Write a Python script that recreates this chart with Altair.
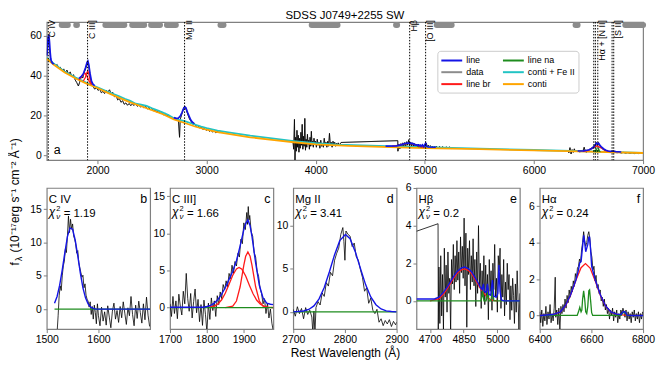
import altair as alt
import pandas as pd

FONT = "Liberation Sans"
TITLE = "SDSS J0749+2255 SW"

SERIES = ["line", "data", "line br", "line na", "conti + Fe II", "conti"]
SERIES_COLORS = ["#1414e6", "#8c8c8c", "#ff1a1a", "#1e8c1e", "#22c4c4", "#ffa500"]

# emission-line markers in the top panel
MARK_WAVES = [1549, 1909, 2798, 4861, 5007, 6548, 6563, 6585, 6716, 6731]
MARK_LABELS = ["C IV", "C III]", "Mg II", "H\u03b2", "[O III]", "H\u03b1 + [N II]", "[S II]"]
MARK_LABEL_WAVES = [1549, 1909, 2798, 4861, 5007, 6585, 6731]

# continuum fitting windows (grey bars)
WIN_START = [1672, 1805, 2072, 2318, 2491, 2636, 3127, 3963, 4736, 5109, 6381, 6837]
WIN_END = [1728, 1812, 2246, 2428, 2573, 2718, 3155, 4200, 4746, 5246, 6400, 7000]

# ---------------- top panel -----------------
TOP_CONTI = [(1535, 48.5), (1600, 45.5), (1700, 41.6), (1800, 38.6), (1900, 36.0), (2000, 33.8),
             (2100, 31.2), (2200, 28.8), (2300, 26.6), (2400, 24.6), (2500, 22.6), (2600, 20.6),
             (2700, 18.0), (2800, 16.2), (2900, 14.3), (3000, 12.8), (3100, 11.6), (3200, 10.7),
             (3400, 9.0), (3600, 7.7), (3800, 6.5), (4000, 5.4), (4300, 4.7), (4600, 4.2),
             (5000, 3.6), (5500, 3.0), (6000, 2.4), (6500, 1.8), (7000, 1.1)]
TOP_FEII = [(1535, 49.0), (1600, 46.0), (1700, 42.0), (1800, 39.0), (1900, 36.4), (2000, 34.2),
            (2100, 31.8), (2200, 29.6), (2250, 28.4), (2300, 27.3), (2350, 25.9), (2400, 25.4),
            (2450, 24.8), (2500, 23.6), (2550, 22.6), (2600, 21.4), (2650, 20.2), (2700, 18.6),
            (2750, 17.7), (2800, 17.1), (2850, 16.2), (2900, 15.3), (2950, 14.4), (3000, 13.6),
            (3100, 12.4), (3200, 11.5), (3400, 9.8), (3600, 8.4), (3800, 7.1), (4000, 6.0),
            (4200, 5.3), (4500, 4.8), (4800, 4.3), (5000, 4.0), (5500, 3.3), (6000, 2.6),
            (6500, 1.9), (7000, 1.15)]
TOP_LINE = [
    [(1536, 50), (1542, 55), (1548, 59), (1554, 60.5), (1560, 57), (1566, 52), (1572, 48.5),
     (1580, 46.8), (1590, 46.2), (1600, 45.8)],
    [(1830, 38.6), (1850, 39.5), (1870, 41.0), (1890, 44.0), (1905, 46.8), (1912, 47.3),
     (1920, 45.5), (1932, 41.0), (1945, 37.2), (1960, 35.6), (1975, 35.0)],
    [(2700, 18.9), (2720, 18.5), (2740, 18.6), (2760, 19.8), (2775, 21.6), (2790, 23.6),
     (2800, 24.4), (2810, 23.9), (2825, 21.6), (2840, 19.6), (2855, 17.7), (2870, 16.6), (2885, 16.0)],
    [(4640, 4.6), (4740, 4.7), (4780, 5.2), (4820, 5.9), (4855, 6.2), (4890, 5.8), (4920, 5.1),
     (4938, 5.2), (4945, 4.7), (4956, 5.1), (4965, 4.5), (4978, 5.2), (4990, 4.3), (5007, 6.0),
     (5015, 4.5), (5030, 4.1), (5100, 4.0)],
    [(6400, 2.1), (6450, 2.2), (6500, 2.6), (6530, 3.3), (6550, 4.3), (6565, 5.5), (6572, 6.1),
     (6582, 5.5), (6592, 6.0), (6605, 4.9), (6620, 4.0), (6640, 3.1), (6660, 2.5), (6680, 2.1),
     (6700, 1.9), (6725, 2.1), (6750, 1.8), (6800, 1.6)],
]
TOP_BR = [
    [(1830, 37.9), (1850, 39.2), (1870, 40.6), (1887, 41.2), (1905, 39.6), (1925, 37.0), (1945, 35.6)],
    [(1870, 37.3), (1890, 39.2), (1900, 41.2), (1911, 42.3), (1922, 40.6), (1935, 37.2), (1950, 35.5)],
    [(4700, 4.6), (4760, 4.9), (4800, 5.6), (4855, 6.1), (4900, 5.6), (4940, 4.7), (4980, 4.1), (5000, 4.05)],
    [(6450, 1.95), (6500, 2.4), (6540, 3.7), (6577, 4.7), (6615, 3.7), (6655, 2.3), (6700, 1.8)],
]
TOP_NA = [
    [(4928, 4.3), (4934, 4.8), (4940, 4.3), (4972, 4.2), (4978, 4.9), (4984, 4.2)],
    [(6545, 1.85), (6555, 2.3), (6563, 1.9), (6570, 3.2), (6578, 1.9), (6586, 2.0), (6593, 3.2),
     (6601, 1.9), (6610, 1.8)],
]
TOP_DATA = [
    [(1536, 50.5), (1542, 54), (1546, 57), (1550, 59.5), (1554, 58), (1558, 56), (1562, 52.5),
     (1566, 50.5), (1570, 47.5), (1576, 46.5), (1582, 47.2), (1590, 45.8), (1600, 46.3),
     (1615, 44.9), (1630, 45.6), (1645, 43.8), (1660, 44.2), (1675, 42.5), (1690, 43.4),
     (1705, 41.6), (1720, 42.8), (1735, 40.6), (1750, 41.9), (1765, 39.4), (1780, 40.5),
     (1795, 37.9), (1810, 36.5), (1825, 34.8), (1835, 36.4), (1845, 38.4), (1855, 39.6),
     (1865, 38.8), (1875, 41.2), (1885, 42.6), (1895, 44.1), (1905, 45.8), (1912, 46.9),
     (1920, 44.8), (1930, 40.6), (1940, 37.2), (1950, 35.1), (1960, 34.4), (1975, 33.2),
     (1990, 34.1), (2005, 32.6), (2020, 33.3), (2035, 31.4), (2050, 32.1), (2065, 31.0),
     (2080, 32.6), (2095, 31.8), (2110, 32.9), (2125, 30.9), (2140, 31.6), (2155, 29.4),
     (2170, 30.0), (2185, 27.8), (2200, 28.6), (2215, 26.6), (2230, 27.4), (2245, 25.6),
     (2260, 26.3), (2275, 25.1), (2290, 26.0), (2305, 24.9), (2320, 25.8), (2335, 25.0),
     (2350, 25.9), (2365, 24.6), (2380, 25.4), (2395, 24.2), (2410, 24.9), (2425, 23.8),
     (2440, 24.6), (2455, 23.2), (2470, 24.0), (2485, 22.9), (2500, 23.6), (2515, 22.3),
     (2530, 22.9), (2545, 21.6), (2560, 22.5), (2575, 21.0), (2590, 21.8), (2605, 20.3),
     (2620, 21.0), (2635, 19.8), (2650, 20.2), (2665, 18.9), (2680, 19.4), (2695, 18.2),
     (2710, 18.9), (2725, 17.8), (2740, 18.6), (2752, 9.0), (2758, 18.0), (2770, 20.1),
     (2785, 22.8), (2795, 24.2), (2805, 24.0), (2815, 22.5), (2830, 20.1), (2845, 18.0),
     (2860, 16.8), (2875, 15.4), (2890, 15.9), (2905, 14.6), (2920, 14.9), (2935, 13.7),
     (2950, 14.2), (2965, 13.0), (2980, 13.4), (2995, 12.5), (3010, 13.1), (3025, 12.0),
     (3040, 12.6), (3055, 11.6), (3070, 12.2), (3085, 11.2), (3100, 11.9), (3115, 11.4),
     (3130, 12.0), (3145, 11.6)],
    [(3790, 7.5), (3798, 3.0), (3805, 18.0), (3810, -2.5), (3816, 9.0), (3822, 2.0), (3828, 12.5),
     (3834, 4.0), (3840, 10.0), (3846, 1.5), (3852, 8.5), (3858, 3.5), (3864, 11.5), (3870, 5.0),
     (3876, 15.5), (3882, 3.0), (3888, 9.5), (3894, 4.5), (3900, 18.5), (3906, 2.5), (3912, 8.0),
     (3918, 4.0), (3924, 10.5), (3930, 5.5), (3936, 7.5), (3942, 3.0), (3948, 9.0), (3954, 4.5),
     (3960, 12.0), (3966, 5.0), (3972, 7.0), (3978, 4.0), (3984, 8.5), (3990, 5.5), (3998, 7.0),
     (4006, 4.0), (4014, 8.0), (4022, 5.0), (4030, 6.5), (4038, 3.5), (4046, 7.5), (4054, 4.5),
     (4062, 6.0), (4070, 4.0), (4078, 8.5), (4086, 5.0), (4094, 6.5), (4102, 4.0), (4110, 7.0),
     (4118, 4.5), (4126, 11.0), (4134, 5.0), (4142, 6.5), (4150, 4.0), (4158, 7.0), (4166, 5.5),
     (4174, 6.5), (4182, 4.5), (4190, 6.0), (4198, 5.0), (4206, 6.2), (4214, 4.8), (4222, 5.6),
     (4232, 6.4), (4752, 7.3), (4753, 2.0), (4762, 5.5), (4771, 3.2), (4780, 5.8), (4789, 3.6),
     (4798, 6.2), (4807, 4.2), (4816, 6.4), (4825, 4.6), (4834, 6.8), (4843, 5.0), (4852, 7.8),
     (4861, 4.8), (4870, 6.6), (4879, 4.6), (4888, 6.2), (4897, 4.4), (4906, 5.8), (4915, 4.0),
     (4924, 5.4), (4933, 3.8), (4942, 5.6), (4951, 4.0), (4960, 5.2), (4969, 3.6), (4978, 5.4),
     (4987, 4.0), (4996, 5.0), (5005, 4.2), (5014, 6.0), (5023, 3.8), (5032, 5.0), (5041, 3.4),
     (5050, 4.8), (5059, 3.6), (5068, 4.6), (5077, 3.2), (5086, 4.4), (5095, 3.4), (5104, 4.6),
     (5120, 3.6), (5135, 4.4), (5150, 3.5), (5165, 4.3), (5180, 3.4), (5195, 4.2), (5210, 3.5),
     (5225, 4.1), (5240, 3.3), (5255, 3.9)],
    [(6310, 2.5), (6320, 1.2), (6330, 3.8), (6340, 0.6), (6350, 2.8), (6360, 1.4), (6370, 3.2),
     (6380, 1.6), (6390, 2.6), (6400, 1.8), (6410, 2.4), (6420, 1.5), (6430, 2.6), (6440, 1.9),
     (6450, 2.3), (6460, 4.0), (6470, 2.0), (6480, 1.4), (6490, 2.6), (6500, 2.3), (6510, 3.0),
     (6520, 3.3), (6530, 3.7), (6540, 4.1), (6550, 4.6), (6560, 5.2), (6570, 6.2), (6580, 5.8),
     (6590, 6.3), (6600, 5.1), (6610, 4.4), (6620, 3.6), (6630, 3.2), (6640, 2.6), (6650, 2.4),
     (6660, 2.0), (6670, 1.6), (6680, 1.8), (6690, 1.5), (6700, 1.7), (6710, 1.4), (6720, 1.8),
     (6730, 1.6), (6740, 1.3), (6750, 1.5), (6760, 1.2), (6780, 1.5), (6800, 1.1), (6820, 1.4),
     (6840, 1.0), (6860, 1.3), (6880, 0.9), (6900, 1.2), (6920, 0.8), (6940, 1.1), (6960, 0.8),
     (6980, 1.0), (7000, 0.9)],
]

# ---------------- zoomed panels -----------------
PANEL_NAMES = ["C IV", "C III]", "Mg II", "H\u03b2", "H\u03b1"]
PANEL_LETTERS = ["b", "c", "d", "e", "f"]
PANEL_CHI2 = ["1.19", "1.66", "3.41", "0.2", "0.24"]
X_DOMAINS = [[1500, 1700], [1700, 1980], [2700, 2900], [4640, 5100], [6400, 6800]]
Y_DOMAINS = [[-3, 18.2], [-2.9, 16.1], [-2, 14.4], [-1.5, 6], [-0.75, 7]]
X_TICKS = [[1500, 1600], [1700, 1800, 1900], [2700, 2800, 2900], [4700, 4850, 5000], [6400, 6600, 6800]]
Y_TICKS = [[0, 5, 10, 15], [0, 5, 10, 15], [0, 5, 10], [0, 2, 4, 6], [0, 2, 4, 6]]

B_DATA = [(1520, -3.5), (1522, -1), (1524, 2), (1526, 3.5), (1528, 2.8), (1530, 5), (1532, 6.5),
          (1534, 7.2), (1536, 9), (1538, 8.5), (1540, 11), (1542, 14), (1544, 11.5), (1546, 13.5),
          (1548, 12), (1550, 12.8), (1552, 11), (1554, 10.5), (1556, 9.8), (1558, 8.4), (1560, 8.8),
          (1562, 7), (1564, 6.2), (1566, 5.5), (1568, 4.8), (1570, 5.1), (1572, 3.2), (1574, 3.8),
          (1576, 2.1), (1578, 1.5), (1580, 1.2), (1582, 0.3), (1584, 1.1), (1586, -0.8), (1588, 0.4),
          (1590, -1.5), (1592, 0.6), (1594, -0.5), (1596, -2.2), (1598, 0.8), (1600, -1), (1603, -2.5),
          (1606, 0.3), (1609, -1.8), (1612, -0.4), (1615, -2.4), (1618, 0.5), (1621, -1.2), (1624, -2.8),
          (1627, -0.3), (1630, 0.9), (1633, -1.5), (1636, -0.2), (1639, -2), (1642, 0.4), (1645, -1.3),
          (1648, 1.1), (1651, -0.6), (1654, -2.3), (1657, 0.2), (1660, -1), (1663, 1.9), (1666, -0.8),
          (1669, -2.5), (1672, 0.6), (1675, -1.4), (1678, 1.2), (1681, -0.5), (1684, -2.1), (1687, 0.8),
          (1690, -1.6), (1693, 1.8), (1696, -0.9), (1699, -2.6)]
B_LINE = [(1515, 0.9), (1520, 1.9), (1525, 3.6), (1530, 5.9), (1535, 8.5), (1540, 10.9), (1545, 12.2),
          (1550, 12.0), (1555, 10.4), (1560, 8.0), (1565, 5.4), (1570, 3.2), (1575, 1.7), (1580, 0.8),
          (1585, 0.3), (1590, 0.1), (1595, 0.0), (1700, 0.0)]
B_NA = [(1515, 0.0), (1700, 0.0)]

C_DATA = [(1700, 0.5), (1704, -1.2), (1708, 1.5), (1712, -0.8), (1716, 0.9), (1720, -1.5), (1724, 1.8),
          (1728, 0.2), (1732, -1), (1736, 2.2), (1740, 0.5), (1744, 4.6), (1748, 1.2), (1752, -0.5),
          (1756, 1.9), (1760, -1.4), (1764, 0.8), (1768, 2.5), (1772, -0.7), (1776, 1.1), (1780, -1.9),
          (1784, 0.4), (1788, -2.4), (1792, 1), (1796, -0.9), (1800, -3.3), (1804, 0.6), (1808, -1.6),
          (1812, 1.3), (1816, -0.4), (1820, 0.9), (1824, -1.2), (1828, 1.6), (1832, 0.4), (1836, 2.1),
          (1840, 1.2), (1844, 3.1), (1848, 2.4), (1852, 3.6), (1856, 2.8), (1860, 4.6), (1864, 3.9),
          (1868, 5.7), (1872, 4.6), (1876, 6.2), (1880, 5.6), (1884, 7.3), (1888, 6.8), (1892, 9.2),
          (1896, 8.6), (1900, 11.4), (1904, 10.5), (1908, 12.8), (1910, 11.2), (1912, 13.6), (1914, 11.8),
          (1916, 12.4), (1920, 10.2), (1924, 9.6), (1928, 7.4), (1932, 6.8), (1936, 4.9), (1940, 4.2),
          (1944, 2.6), (1948, 1.9), (1952, 0.5), (1956, 1.2), (1960, -0.8), (1964, 0.6), (1968, -1.4),
          (1972, -0.2), (1976, -2.1), (1980, -3.2)]
C_LINE = [(1700, 0.05), (1790, 0.05), (1800, 0.15), (1810, 0.3), (1820, 0.6), (1830, 1.1), (1840, 1.8),
          (1850, 2.7), (1860, 3.8), (1870, 4.9), (1880, 6.3), (1890, 8.3), (1900, 10.5), (1905, 11.3),
          (1911, 11.8), (1917, 11.0), (1922, 9.6), (1932, 6.0), (1942, 3.0), (1952, 1.3), (1962, 0.6),
          (1972, 0.45), (1980, 0.4)]
C_BR = [
    [(1800, 0.0), (1820, 0.2), (1830, 0.49), (1840, 1.05), (1850, 1.96), (1860, 3.15), (1870, 4.36),
     (1880, 5.2), (1887, 5.4), (1895, 5.15), (1905, 4.25), (1915, 3.02), (1925, 1.86), (1935, 0.98),
     (1945, 0.45), (1955, 0.18), (1965, 0.06), (1980, 0.01)],
    [(1850, 0.0), (1870, 0.18), (1880, 0.88), (1890, 2.8), (1900, 5.7), (1905, 6.9), (1911, 7.5),
     (1917, 6.9), (1922, 5.7), (1932, 2.8), (1942, 0.88), (1952, 0.18), (1962, 0.02), (1980, 0.0)],
]
C_NA = [(1700, 0.0), (1980, 0.0)]

D_DATA = [(2700, 0.3), (2704, -0.5), (2708, 0.6), (2712, -0.2), (2716, 0.4), (2720, -0.8), (2724, 0.5),
          (2728, -0.3), (2732, 0.2), (2736, -0.6), (2738, -2.5), (2740, 0.1), (2742, -2.5), (2744, 0.5),
          (2748, 1.2), (2752, 0.8), (2756, 2.2), (2760, 1.8), (2764, 3.4), (2768, 3.0), (2772, 4.6),
          (2776, 4.2), (2780, 6.0), (2784, 6.8), (2788, 7.4), (2792, 9.0), (2796, 9.8), (2798, 8.2),
          (2800, 6.0), (2802, 9.4), (2806, 9.0), (2810, 8.8), (2814, 7.6), (2818, 8.0), (2822, 6.4),
          (2826, 6.0), (2830, 4.9), (2834, 4.0), (2838, 2.4), (2842, 2.8), (2846, 1.0), (2850, 1.6),
          (2854, 0.2), (2858, -0.2), (2862, 0.3), (2866, -1.2), (2870, -0.8), (2874, -1.6), (2878, -1.0),
          (2882, -1.4), (2886, -0.9), (2890, -1.7), (2894, -1.1), (2898, -1.5), (2900, -1.2)]
D_LINE = [(2700, 0.0), (2720, 0.1), (2730, 0.28), (2740, 0.7), (2750, 1.51), (2760, 2.84), (2770, 4.66),
          (2780, 6.65), (2790, 8.28), (2801, 9.0), (2810, 8.5), (2820, 7.0), (2830, 5.06), (2840, 3.17),
          (2850, 1.73), (2860, 0.83), (2870, 0.34), (2880, 0.12), (2890, 0.04), (2900, 0.0)]
D_NA = [(2700, 0.0), (2900, 0.0)]

E_DATA = [(4640, 3.7), (4736, 4.1), (4737, -1.5), (4740, 1.8), (4744, -1.2), (4748, 2.4), (4752, -0.8),
          (4756, 1.4), (4760, -1.5), (4764, 2.8), (4768, 0.2), (4772, 1.9), (4776, -0.6), (4780, 2.6),
          (4784, 0.4), (4788, 1.2), (4792, -1.6), (4796, 2.2), (4800, 0.9), (4804, 3.0), (4808, 0.6),
          (4812, 2.4), (4816, 1.0), (4820, 3.2), (4824, 1.1), (4828, 2.6), (4832, 0.4), (4836, 3.4),
          (4840, 1.5), (4844, 2.9), (4848, 1.2), (4852, 4.4), (4856, 0.8), (4860, 3.6), (4864, -1.4),
          (4868, 2.8), (4872, 1.4), (4876, 3.2), (4880, 0.6), (4884, 2.4), (4888, 1.0), (4892, 3.3),
          (4896, 0.8), (4900, 2.2), (4904, -0.3), (4908, 2.6), (4912, 0.4), (4916, 4.0), (4920, 0.7),
          (4924, 2.0), (4928, -0.4), (4932, 1.6), (4936, 0.2), (4940, 2.4), (4944, -0.2), (4948, 1.9),
          (4952, 0.1), (4956, 1.4), (4960, -1.0), (4964, 2.2), (4968, 0.5), (4972, 1.6), (4976, -0.5),
          (4980, 2.0), (4984, 0.6), (4988, 3.0), (4992, 0.2), (4996, 1.2), (5000, -0.6), (5004, 2.4),
          (5008, 1.6), (5012, 2.8), (5016, -0.4), (5020, 1.4), (5024, 0.2), (5028, 2.2), (5032, -0.8),
          (5036, 1.0), (5040, -0.2), (5044, 2.0), (5048, 0.6), (5052, 1.4), (5056, -1.0), (5060, 0.8),
          (5064, -0.5), (5068, 1.2), (5072, 0.3), (5076, -1.2), (5080, 0.9), (5084, -0.6), (5088, 1.6),
          (5092, 0.1), (5096, -1.5), (5100, 0.4)]
E_LINE = [(4640, 0.1), (4720, 0.1), (4740, 0.2), (4760, 0.45), (4780, 0.8), (4800, 1.2), (4820, 1.55),
          (4840, 1.75), (4855, 1.8), (4870, 1.72), (4885, 1.55), (4900, 1.25), (4915, 0.95), (4925, 0.7),
          (4932, 0.6), (4938, 0.9), (4942, 0.5), (4950, 0.45), (4956, 0.9), (4962, 0.35), (4970, 0.3),
          (4978, 1.1), (4984, 0.25), (4995, 0.2), (5002, 0.4), (5007, 1.9), (5012, 0.5), (5018, 0.05),
          (5030, 0.0), (5100, 0.0)]
E_BR = [[(4700, 0.0), (4740, 0.1), (4760, 0.35), (4780, 0.7), (4800, 1.1), (4820, 1.45), (4840, 1.65),
         (4855, 1.7), (4870, 1.62), (4885, 1.45), (4900, 1.15), (4915, 0.85), (4925, 0.65), (4935, 0.48),
         (4945, 0.33), (4955, 0.2), (4965, 0.1), (4980, 0.03), (5000, 0.0)]]
E_NA = [(4640, 0.0), (4928, 0.0), (4934, 0.55), (4940, 0.0), (4950, 0.0), (4956, 0.45), (4962, 0.0),
        (4972, 0.0), (4978, 0.75), (4984, 0.0), (5100, 0.0)]

F_DATA = [(6400, 0.2), (6404, -0.4), (6408, 0.3), (6412, -0.6), (6416, 0.1), (6420, -0.3), (6424, 0.5),
          (6428, -0.5), (6432, 0.2), (6436, -0.2), (6440, 0.6), (6444, -0.4), (6448, 0.1), (6452, -0.3),
          (6456, 0.4), (6460, 2.1), (6462, -0.1), (6466, 0.3), (6470, -0.5), (6474, 0.4), (6478, -0.8),
          (6482, 0.5), (6486, 0.1), (6490, 0.6), (6494, 0.2), (6498, 0.9), (6502, 0.4), (6506, 1.1),
          (6510, 0.7), (6514, 1.4), (6518, 1.0), (6522, 1.6), (6526, 1.3), (6530, 1.9), (6534, 1.6),
          (6538, 2.3), (6542, 2.0), (6546, 2.6), (6550, 2.7), (6554, 3.1), (6558, 2.9), (6562, 3.6),
          (6566, 4.0), (6570, 4.6), (6574, 4.1), (6578, 3.8), (6582, 4.0), (6586, 4.4), (6590, 4.6),
          (6594, 4.2), (6598, 3.5), (6602, 3.2), (6606, 2.5), (6610, 2.7), (6614, 1.9), (6618, 2.2),
          (6622, 1.5), (6626, 1.7), (6630, 1.2), (6634, 1.4), (6638, 0.8), (6642, 1.0), (6646, 0.5),
          (6650, 0.9), (6654, 0.3), (6658, 0.6), (6662, 0.1), (6666, 0.4), (6670, -0.2), (6674, 0.3),
          (6678, 0.0), (6682, 0.4), (6686, -0.3), (6690, 0.2), (6694, -0.1), (6698, 0.3), (6702, -0.4),
          (6706, 0.1), (6710, -0.2), (6714, 0.3), (6718, 0.1), (6722, 0.4), (6726, 0.2), (6730, -0.1),
          (6734, 0.3), (6738, -0.3), (6742, 0.2), (6746, -0.2), (6750, 0.1), (6754, -0.4), (6758, 0.2),
          (6762, -0.1), (6766, 0.3), (6770, -0.3), (6774, 0.1), (6778, -0.2), (6782, 0.2), (6786, -0.4),
          (6790, 0.1), (6794, -0.2), (6798, 0.2)]
F_LINE = [(6400, 0.0), (6450, 0.05), (6480, 0.2), (6500, 0.55), (6520, 1.15), (6540, 1.95), (6550, 2.5),
          (6555, 2.9), (6560, 2.95), (6566, 3.8), (6570, 4.4), (6574, 4.0), (6578, 3.5), (6582, 3.7),
          (6586, 3.9), (6590, 4.3), (6593, 4.3), (6597, 3.6), (6601, 2.7), (6615, 1.95), (6635, 1.12),
          (6655, 0.52), (6675, 0.2), (6700, 0.06), (6715, 0.05), (6720, 0.17), (6726, 0.22), (6732, 0.17),
          (6738, 0.02), (6760, 0.0), (6800, 0.0)]
F_BR = [[(6400, 0.0), (6450, 0.03), (6480, 0.2), (6500, 0.53), (6520, 1.13), (6540, 1.93), (6560, 2.62),
         (6577, 2.85), (6595, 2.6), (6615, 1.89), (6635, 1.1), (6655, 0.51), (6675, 0.19), (6700, 0.04),
         (6750, 0.0), (6800, 0.0)]]
F_NA = [(6400, 0.0), (6545, 0.0), (6550, 0.2), (6555, 0.45), (6560, 0.2), (6563, 0.3), (6566, 0.9),
        (6570, 1.35), (6574, 0.9), (6578, 0.2), (6582, 0.1), (6586, 0.5), (6590, 1.35), (6593, 1.4),
        (6597, 0.8), (6601, 0.15), (6605, 0.0), (6715, 0.0), (6720, 0.12), (6726, 0.2), (6732, 0.12),
        (6738, 0.0), (6800, 0.0)]

PANELS = [
    dict(data=B_DATA, line=B_LINE, br=[], na=B_NA),
    dict(data=C_DATA, line=C_LINE, br=C_BR, na=C_NA),
    dict(data=D_DATA, line=D_LINE, br=[], na=D_NA),
    dict(data=E_DATA, line=E_LINE, br=E_BR, na=E_NA),
    dict(data=F_DATA, line=F_LINE, br=F_BR, na=F_NA),
]

Y_TITLE_MAIN = "(10\u207b\u00b9\u2077erg s\u207b\u00b9 cm\u207b\u00b2 \u00c5\u207b\u00b9)"

# ------------------------------------------------------------------
COLOR_SCALE = alt.Scale(domain=SERIES, range=SERIES_COLORS)
LEGEND = alt.Legend(orient="none", legendX=393, legendY=29, columns=2, title=None,
                    symbolType="M-2,0H2", symbolStrokeWidth=2, symbolSize=110,
                    symbolOffset=5, labelFontSize=9, labelFont=FONT, labelColor="black",
                    fillColor="white", strokeColor="#cccccc", padding=3, cornerRadius=3,
                    columnPadding=8, rowPadding=0, labelOffset=8)


def frame(series, segs):
    rows = []
    for k, seg in enumerate(segs):
        for lam, f in seg:
            rows.append({"lam": lam, "flux": f, "series": series, "seg": f"{series}-{k}"})
    return pd.DataFrame(rows)


def text_layer(txt, x, y, size, align="left", baseline="alphabetic", style="normal", angle=0):
    return alt.Chart(pd.DataFrame({"t": [txt]})).mark_text(
        align=align, baseline=baseline, fontSize=size, fontStyle=style, font=FONT,
        angle=angle, color="black").encode(x=alt.value(x), y=alt.value(y), text="t:N")


def colored(df, X, Y, legend, sw=1.3):
    return alt.Chart(df).mark_line(strokeWidth=sw, clip=True).encode(
        x=X, y=Y, detail="seg:N",
        color=alt.Color("series:N", scale=COLOR_SCALE, legend=legend))


# ---------------- top panel ----------------
Xt = alt.X("lam:Q", scale=alt.Scale(domain=[1535, 7000], nice=False, zero=False),
           axis=alt.Axis(values=[2000, 3000, 4000, 5000, 6000, 7000], format="d", title=None))
Yt = alt.Y("flux:Q", scale=alt.Scale(domain=[-2.5, 67], nice=False, zero=False),
           axis=alt.Axis(values=[0, 20, 40, 60], format="d", title=None))

top_data = frame("data", TOP_DATA)
top_layers = [
    colored(top_data, Xt, Yt, LEGEND, sw=0.8),
    alt.Chart(top_data).mark_line(color="black", strokeWidth=0.8, clip=True).encode(x=Xt, y=Yt, detail="seg:N"),
    colored(frame("conti + Fe II", [TOP_FEII]), Xt, Yt, LEGEND, sw=1.8),
    colored(frame("conti", [TOP_CONTI]), Xt, Yt, LEGEND, sw=1.8),
    colored(frame("line na", TOP_NA), Xt, Yt, LEGEND),
    colored(frame("line br", TOP_BR), Xt, Yt, LEGEND),
    colored(frame("line", TOP_LINE), Xt, Yt, LEGEND, sw=1.7),
    alt.Chart(pd.DataFrame({"lam": MARK_WAVES})).mark_rule(
        color="black", strokeWidth=1, strokeDash=[1.5, 1.5]).encode(x=alt.X("lam:Q")),
    alt.Chart(pd.DataFrame({"start": WIN_START, "end": WIN_END})).mark_rule(
        color="#8c8c8c", strokeWidth=6, strokeCap="round").encode(
        x=alt.X("start:Q"), x2="end:Q", y=alt.value(3)),
    alt.Chart(pd.DataFrame({"lam": MARK_LABEL_WAVES, "label": MARK_LABELS})).mark_text(
        angle=270, align="right", baseline="top", fontSize=9, font=FONT, dx=2, color="black").encode(
        x=alt.X("lam:Q"), y=alt.value(0), text="label:N"),
    text_layer("a", 7, 132.5, 12.5),
    text_layer(TITLE, 300, -3, 11.5, align="center"),
]
top = alt.layer(*top_layers).properties(width=600, height=139)


# ---------------- bottom panels ----------------
def panel(i):
    p = PANELS[i]
    X = alt.X("lam:Q", scale=alt.Scale(domain=X_DOMAINS[i], nice=False, zero=False),
              axis=alt.Axis(values=X_TICKS[i], format="d",
                            title="Rest Wavelength (\u00c5)" if i == 2 else None))
    Y = alt.Y("flux:Q", scale=alt.Scale(domain=Y_DOMAINS[i], nice=False, zero=False),
              axis=alt.Axis(values=Y_TICKS[i], format="d", title=None))
    layers = [alt.Chart(frame("data", [p["data"]])).mark_line(
        color="black", strokeWidth=0.8, clip=True).encode(x=X, y=Y, detail="seg:N")]
    if p["br"]:
        layers.append(colored(frame("line br", p["br"]), X, Y, None))
    layers.append(colored(frame("line na", [p["na"]]), X, Y, None))
    layers.append(colored(frame("line", [p["line"]]), X, Y, None, sw=1.4))
    layers += [
        text_layer(PANEL_NAMES[i], 2, 15, 11.5),
        text_layer(PANEL_LETTERS[i], 101, 15, 12.5, align="right"),
        text_layer("\u03c7", 2, 28, 12, style="italic"),
        text_layer("2", 9.5, 23, 7.5),
        text_layer("\u03bd", 9.5, 31.5, 8, style="italic"),
        text_layer("= " + PANEL_CHI2[i], 17, 29, 11.5),
    ]
    if i == 0:
        layers += [
            text_layer("f", -28, 78, 12, angle=270),
            text_layer("\u03bb", -25, 73.5, 8.5, angle=270),
            text_layer(Y_TITLE_MAIN, -28, 65, 12, angle=270),
        ]
    return alt.layer(*layers).properties(width=104, height=142)


bottom = alt.hconcat(*[panel(i) for i in range(5)], spacing=20, bounds="flush").resolve_scale(color="independent")

chart = alt.vconcat(top, bottom, spacing=28, bounds="flush").resolve_scale(color="independent").properties(
    padding={"left": 0, "top": 0, "right": 0, "bottom": 0})

chart = chart.configure_view(stroke="#808080", strokeWidth=1.2).configure_axis(
    labelFont=FONT, titleFont=FONT, labelFontSize=10.5, titleFontSize=12, labelColor="black",
    titleColor="black", titleFontWeight="normal", tickColor="#808080", tickSize=3.5, domain=False,
    grid=False, labelFlush=False, labelOverlap=False, labelPadding=2, titlePadding=3)

chart.save("out.html", embed_options={"renderer": "svg", "actions": False})
